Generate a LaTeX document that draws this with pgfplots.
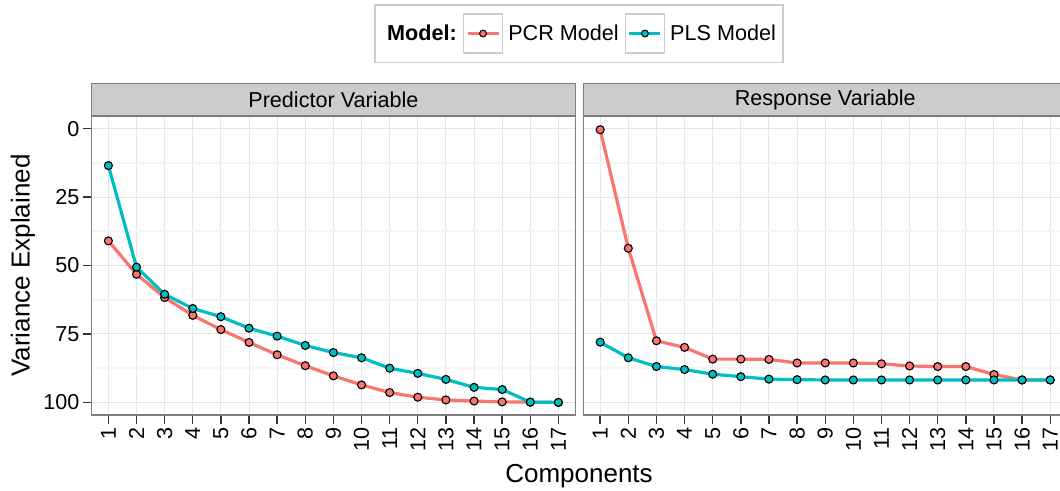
\documentclass[border=0pt]{standalone}
\usepackage{fontspec}
\setmainfont{Liberation Sans}
\usepackage{pgfplots}
\usepackage{pgfplotstable}
\pgfplotsset{compat=1.18}

\definecolor{pcr}{HTML}{F8766D}
\definecolor{pls}{HTML}{00BFC4}
\definecolor{grey20}{HTML}{333333}
\definecolor{grey50}{HTML}{7F7F7F}
\definecolor{grey80}{HTML}{CCCCCC}
\definecolor{grey90}{HTML}{E5E5E5}
\definecolor{grey96}{HTML}{F5F5F5}

% cumulative variance explained (%) per number of components
\pgfplotstableread{
comp pcr  pls
1    41.0 13.5
2    53.2 50.6
3    61.7 60.5
4    68.2 65.7
5    73.4 68.7
6    78.1 72.9
7    82.6 75.8
8    86.6 79.2
9    90.3 81.8
10   93.6 83.7
11   96.4 87.5
12   98.1 89.4
13   99.1 91.6
14   99.5 94.5
15   99.8 95.3
16   99.9 99.9
17   100.0 100.0
}\predictor

\pgfplotstableread{
comp pcr  pls
1    0.4  78.0
2    43.7 83.7
3    77.5 86.9
4    79.9 88.0
5    84.2 89.7
6    84.2 90.6
7    84.3 91.5
8    85.6 91.7
9    85.6 91.8
10   85.6 91.8
11   85.9 91.8
12   86.7 91.8
13   86.9 91.8
14   86.9 91.8
15   89.8 91.8
16   91.8 91.8
17   91.8 91.8
}\response

\newcommand{\smallfont}{\fontsize{21.6bp}{24bp}\selectfont}
\newcommand{\bigfont}{\fontsize{26bp}{30bp}\selectfont}

\pgfplotsset{
  facet/.style={
    scale only axis, width=483.8bp, height=299bp,
    xmin=0.4, xmax=17.6, ymin=-4.6, ymax=104.6, y dir=reverse,
    xtick={1,...,17}, ytick={0,25,50,75,100},
    minor ytick={12.5,37.5,62.5,87.5},
    xmajorgrids, ymajorgrids, yminorgrids,
    major grid style={draw=grey90, line width=1bp},
    minor grid style={draw=grey96, line width=1.6bp},
    axis line style={draw=grey50, line width=1.3bp},
    tick align=outside, xtick pos=bottom, ytick pos=left,
    major tick length=8.5bp,
    major tick style={draw=grey20, line width=1.4bp},
    minor tick style={draw=none},
    /pgf/number format/assume math mode=true,
    ticklabel style={font=\smallfont, text=black},
    xticklabel style={rotate=90, anchor=east, inner ysep=0bp},
    every axis title/.style={at={(axis description cs:0.5,1)}, anchor=south,
      draw=grey50, fill=grey80, line width=1.3bp,
      minimum width=483.8bp, minimum height=31.7bp, inner sep=0bp,
      font=\smallfont},
    clip=false,
  },
  pcrline/.style={pcr, line width=3.2bp, line join=round, forget plot},
  plsline/.style={pls, line width=3.2bp, line join=round, forget plot},
  pcrmark/.style={only marks, mark=*, mark size=4bp,
    mark options={fill=pcr, draw=black, line width=1.1bp}, forget plot},
  plsmark/.style={only marks, mark=*, mark size=4bp,
    mark options={fill=pls, draw=black, line width=1.1bp}, forget plot},
  keybox/.style={legend image code/.code={
      \draw[draw=grey80, line width=1.5bp, fill=white]
        (0bp,-19.5bp) rectangle (39bp,19.5bp);
      \draw[#1, line width=3bp] (4bp,0bp) -- (35bp,0bp);
      \path[mark=*, mark size=3.4bp,
        mark options={fill=#1, draw=black, line width=1bp}]
        plot coordinates {(19.5bp,0bp)};
  }},
}

\begin{document}
\begin{tikzpicture}
\path[use as bounding box] (0,0) rectangle (1060bp,491bp);
\clip (0,0) rectangle (1060bp,491bp);

% left facet: variance of the predictors
\begin{axis}[facet,
  at={(91.5bp,76bp)}, anchor=south west,
  title={Predictor Variable},
  ylabel={Variance Explained}, xlabel={Components},
  every axis y label/.style={at={(axis description cs:-0.142,0.5)},
    rotate=90, anchor=center, font=\bigfont},
  every axis x label/.style={at={(axis description cs:1.0077,-0.204)},
    anchor=center, font=\bigfont},
  legend columns=-1,
  legend style={at={(axis description cs:1.0077,1.2759)}, anchor=center,
    draw=grey80, line width=1.5bp, fill=white, font=\smallfont,
    inner xsep=7bp, inner ysep=8.5bp,
    nodes={inner sep=0bp, anchor=west},
    /tikz/every odd column/.append style={column sep=5bp},
    /tikz/every even column/.append style={column sep=6bp}},
]
\addplot[pcrline] table[x=comp, y=pcr] {\predictor};
\addplot[plsline] table[x=comp, y=pls] {\predictor};
\addplot[pcrmark] table[x=comp, y=pcr] {\predictor};
\addplot[plsmark] table[x=comp, y=pls] {\predictor};
\addlegendimage{empty legend}
\addlegendentry{\textbf{Model:}}
\addlegendimage{keybox=pcr}
\addlegendentry{PCR Model}
\addlegendimage{keybox=pls}
\addlegendentry{PLS Model\hspace{12bp}}
\end{axis}

% right facet: variance of the response
\begin{axis}[facet,
  at={(583.3bp,76bp)}, anchor=south west,
  title={Response Variable},
  yticklabels={}, ytick style={draw=none},
]
\addplot[pcrline] table[x=comp, y=pcr] {\response};
\addplot[plsline] table[x=comp, y=pls] {\response};
\addplot[pcrmark] table[x=comp, y=pcr] {\response};
\addplot[plsmark] table[x=comp, y=pls] {\response};
\end{axis}
\end{tikzpicture}
\end{document}
